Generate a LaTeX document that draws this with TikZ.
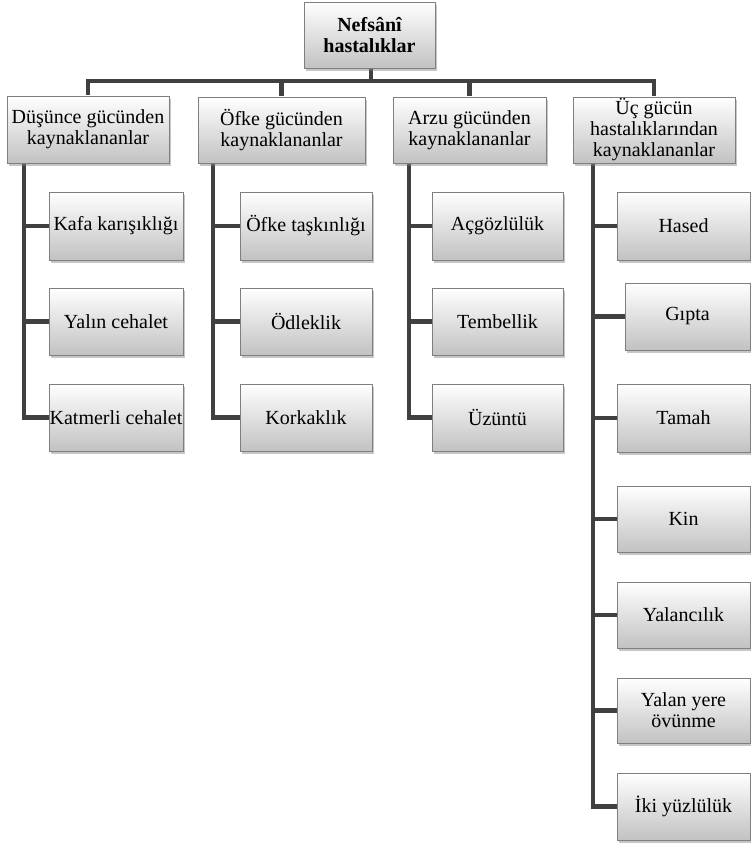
\documentclass[tikz,border=0pt]{standalone}
\usepackage{fontspec}
\setmainfont{Liberation Serif}
\usetikzlibrary{shadows,backgrounds}
\definecolor{linec}{HTML}{404040}
\definecolor{boxedge}{HTML}{7F7F7F}
\tikzset{
  box/.style={draw=boxedge, line width=0.8pt, top color=white, bottom color=black!24,
    drop shadow={opacity=0.45, shadow xshift=2pt, shadow yshift=-3pt},
    align=center, inner sep=0pt, font=\fontsize{20}{21}\selectfont},
  conn/.style={draw=linec, line width=4.5pt}
}
\begin{document}
\begin{tikzpicture}[x=1pt,y=-1pt]
\useasboundingbox (0,0) rectangle (751,845);
% root
\node[box, minimum width=131pt, minimum height=66pt, font=\fontsize{20}{21}\selectfont\bfseries] (root) at (369.5,35) {Nefsânî\\hastalıklar};
% level 1
\node[box, minimum width=162pt, minimum height=67pt] (A) at (88,129.5) {Düşünce gücünden\\kaynaklananlar};
\node[box, minimum width=167pt, minimum height=66pt] (B) at (281.5,130) {Öfke gücünden\\kaynaklananlar};
\node[box, minimum width=153pt, minimum height=66pt] (C) at (469.5,130) {Arzu gücünden\\kaynaklananlar};
\node[box, minimum width=162pt, minimum height=66pt] (D) at (654,130) {Üç gücün\\hastalıklarından\\kaynaklananlar};
% column 1
\node[box, minimum width=134pt, minimum height=68pt] (a1) at (116,226) {Kafa karışıklığı};
\node[box, minimum width=134pt, minimum height=67pt] (a2) at (116,321.5) {Yalın cehalet};
\node[box, minimum width=134pt, minimum height=67pt] (a3) at (116,417.5) {Katmerli cehalet};
% column 2
\node[box, minimum width=132pt, minimum height=68pt] (b1) at (306,226) {Öfke taşkınlığı};
\node[box, minimum width=132pt, minimum height=67pt] (b2) at (306,321.5) {Ödleklik};
\node[box, minimum width=132pt, minimum height=67pt] (b3) at (306,417.5) {Korkaklık};
% column 3
\node[box, minimum width=131pt, minimum height=68pt] (c1) at (497.5,226) {Açgözlülük};
\node[box, minimum width=131pt, minimum height=67pt] (c2) at (497.5,321.5) {Tembellik};
\node[box, minimum width=131pt, minimum height=67pt] (c3) at (497.5,417.5) {Üzüntü};
% column 4
\node[box, minimum width=133pt, minimum height=68pt] (d1) at (683.5,226) {Hased};
\node[box, minimum width=125pt, minimum height=67pt] (d2) at (687.5,316.5) {Gıpta};
\node[box, minimum width=133pt, minimum height=68pt] (d3) at (683.5,418) {Tamah};
\node[box, minimum width=133pt, minimum height=66pt] (d4) at (683.5,519) {Kin};
\node[box, minimum width=133pt, minimum height=66pt] (d5) at (683.5,615) {Yalancılık};
\node[box, minimum width=133pt, minimum height=65pt] (d6) at (683.5,710.5) {Yalan yere\\övünme};
\node[box, minimum width=133pt, minimum height=67pt] (d7) at (683.5,806.5) {İki yüzlülük};
% connector anchors
\coordinate (bus) at (371,81);
\coordinate (ta) at (24,163);
\coordinate (tb) at (213,163);
\coordinate (tc) at (409,163);
\coordinate (td) at (593,163);
\begin{pgfonlayer}{background}
\draw[conn] (root.south -| bus) -- (bus);
\draw[conn] (A.north) |- (bus) -| (D.north);
\draw[conn] (B.north) -- (B.north |- bus);
\draw[conn] (C.north) -- (C.north |- bus);
\draw[conn] (ta) |- (a3.west);
\draw[conn] (ta |- a1.west) -- (a1.west);
\draw[conn] (ta |- a2.west) -- (a2.west);
\draw[conn] (tb) |- (b3.west);
\draw[conn] (tb |- b1.west) -- (b1.west);
\draw[conn] (tb |- b2.west) -- (b2.west);
\draw[conn] (tc) |- (c3.west);
\draw[conn] (tc |- c1.west) -- (c1.west);
\draw[conn] (tc |- c2.west) -- (c2.west);
\draw[conn] (td) |- (d7.west);
\foreach \k in {1,...,6} {\draw[conn] (td |- d\k.west) -- (d\k.west);}
\end{pgfonlayer}
\end{tikzpicture}
\end{document}
